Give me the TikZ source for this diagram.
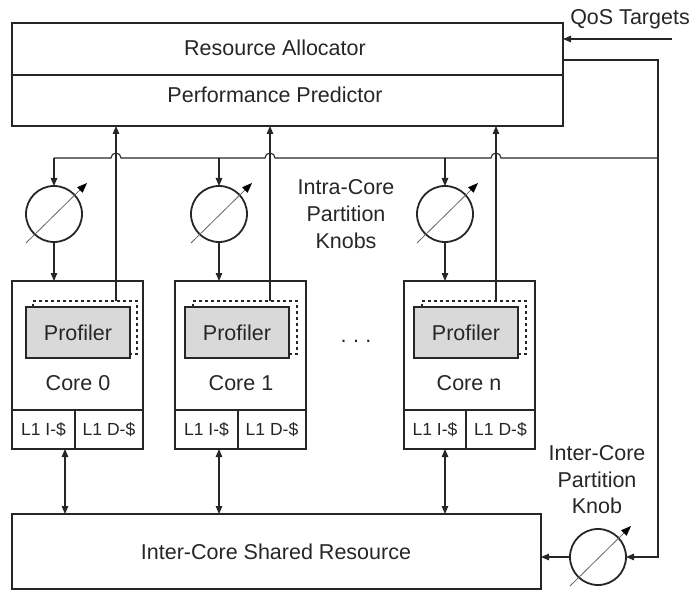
\documentclass[tikz,border=0pt]{standalone}
\usepackage{fontspec}
\setmainfont{Liberation Sans}
\usetikzlibrary{arrows.meta,calc}
\begin{document}
\begin{tikzpicture}[x=1pt,y=-1pt,
  tri/.style={-{Triangle[length=8pt,width=6.5pt]}},
  dtri/.style={{Triangle[length=8pt,width=6.5pt]}-{Triangle[length=8pt,width=6.5pt]}},
  wire/.style={line width=1.1pt, draw=black!85},
  box/.style={draw=black!85, inner sep=0pt, outer sep=0pt, anchor=north west},
  lbl/.style={font=\fontsize{21.5}{26}\selectfont, text=black!85, inner sep=0pt},
  small/.style={font=\fontsize{17.5}{20}\selectfont, text=black!85, inner sep=0pt},
  knobc/.style={draw=black!85, circle, line width=1.8pt, minimum size=56pt, inner sep=0pt, outer sep=0pt},
  prof/.style={box, fill=black!15, line width=1.6pt, minimum width=104pt, minimum height=51pt},
  shad/.style={box, dashed, line width=1.3pt, minimum width=104pt, minimum height=53pt},
  corebox/.style={box, line width=1.7pt, minimum width=131pt, minimum height=168pt},
  cell/.style={box, line width=1.5pt, minimum height=39pt}
]
\useasboundingbox (0,0) rectangle (691,591);
\newcommand\drawknob[2]{%
  \node[knobc] (#1) at (#2) {};
  \draw[line width=0.8pt, draw=black!60, -{Triangle[length=10pt,width=7.5pt,color=black]}]
    ($(#1)+(-28,29)$) -- ($(#1)+(33,-31)$);
}

% Top box
\node[box, line width=2.8pt, minimum width=551pt, minimum height=103pt] (alloc) at (12,23) {};
\draw[line width=1.3pt, draw=black!85] (alloc.west |- 0,75) -- (alloc.east |- 0,75);
\node[lbl] (ra) at (275,48) {Resource Allocator};
\node[lbl] (pp) at (275,95) {Performance Predictor};

% QoS
\node[lbl] (qost) at (630,19) {QoS Targets};
\coordinate (qos) at (672,39);
\draw[wire,tri] (qos) -- (qos -| alloc.east);

% Knobs
\drawknob{k0}{54,214}
\drawknob{k1}{219,214}
\drawknob{kn}{445,214}
\drawknob{kic}{598,557}

\node[lbl] (ic1) at (346,187) {Intra-Core};
\node[lbl] (ic2) at (346,214) {Partition};
\node[lbl] (ic3) at (346,241) {Knobs};

% Cores
\node[corebox] (c0) at (12,281) {};
\node[corebox] (c1) at (175,281) {};
\node[corebox, minimum width=131pt] (cn) at (404,281) {};

% profilers
\node[shad] (s0) at (33,301) {};
\node[prof] (p0) at (26,307) {};
\node[lbl] (pt0) at (p0.center) {Profiler};
\node[shad] (s1) at (193,301) {};
\node[prof] (p1) at (185,307) {};
\node[lbl] (pt1) at (p1.center) {Profiler};
\node[shad] (sn) at (422,301) {};
\node[prof] (pn) at (414,307) {};
\node[lbl] (ptn) at (pn.center) {Profiler};

\node[lbl] (cl0) at (78,383) {Core 0};
\node[lbl] (cl1) at (241,383) {Core 1};
\node[lbl] (cln) at (469,383) {Core n};
\node[lbl] (dots) at (356,341) {.\hspace{6.5pt}.\hspace{6.5pt}.};

% L1 cells
\node[cell, minimum width=63pt] (i0) at (12,410) {};
\node[cell, minimum width=68pt] (d0) at (75,410) {};
\node[small] at (i0.center) {L1 I-\$};
\node[small] at (d0.center) {L1 D-\$};
\node[cell, minimum width=63pt] (i1) at (175,410) {};
\node[cell, minimum width=68pt] (d1) at (238,410) {};
\node[small] at (i1.center) {L1 I-\$};
\node[small] at (d1.center) {L1 D-\$};
\node[cell, minimum width=62pt] (in) at (404,410) {};
\node[cell, minimum width=69pt] (dn) at (466,410) {};
\node[small] at (in.center) {L1 I-\$};
\node[small] at (dn.center) {L1 D-\$};

% Shared resource
\node[box, line width=2.8pt, minimum width=529pt, minimum height=75pt] (shared) at (12,514) {};
\node[lbl] (srt) at (276,552) {Inter-Core Shared Resource};

\node[lbl] (kt1) at (597,453) {Inter-Core};
\node[lbl] (kt2) at (597,480) {Partition};
\node[lbl] (kt3) at (597,506) {Knob};

% feedback line
\coordinate (fb) at (563,60);
\coordinate (jr) at (658,158);
\draw[wire,tri] (fb) -- (658,60) -- (658,557) -- (kic.east);
\draw[wire,tri] (kic.west) -- (kic.west -| shared.east);

% bus with hops
\draw[wire] (jr) -- (501,158) arc[start angle=0,end angle=-180,radius=5]
  -- (275,158) arc[start angle=0,end angle=-180,radius=5]
  -- (121,158) arc[start angle=0,end angle=-180,radius=5]
  -- (54,158);
\coordinate (b0) at (54,158);
\coordinate (b1) at (219,158);
\coordinate (bn) at (445,158);
\draw[wire,tri] (b0) -- (k0.north);
\draw[wire,tri] (b1) -- (k1.north);
\draw[wire,tri] (bn) -- (kn.north);

% knob to core
\draw[wire,tri] (k0.south) -- (k0.south |- c0.north);
\draw[wire,tri] (k1.south) -- (k1.south |- c1.north);
\draw[wire,tri] (kn.south) -- (kn.south |- cn.north);

% profiler up lines
\coordinate (u0) at (116,301);
\coordinate (u1) at (270,301);
\coordinate (un) at (496,301);
\draw[wire,tri] (u0) -- (u0 |- alloc.south);
\draw[wire,tri] (u1) -- (u1 |- alloc.south);
\draw[wire,tri] (un) -- (un |- alloc.south);

% L1 to shared
\coordinate (e0) at (65,449);
\coordinate (e1) at (219,449);
\coordinate (en) at (445,449);
\draw[wire,dtri] (e0) -- (e0 |- shared.north);
\draw[wire,dtri] (e1) -- (e1 |- shared.north);
\draw[wire,dtri] (en) -- (en |- shared.north);
\end{tikzpicture}
\end{document}
